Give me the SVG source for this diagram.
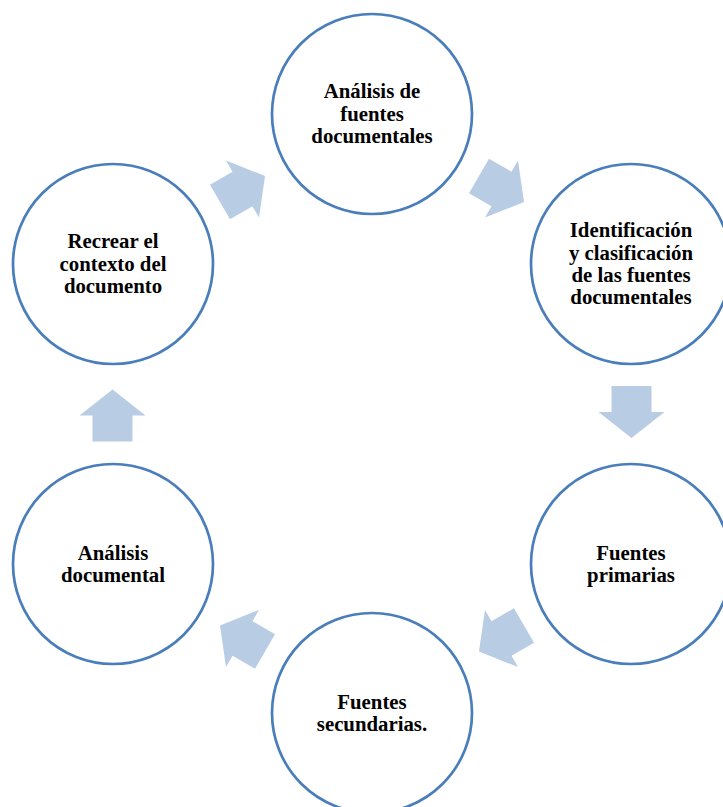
<svg xmlns="http://www.w3.org/2000/svg" width="723" height="807" viewBox="0 0 723 807">
<style>
.node{fill:#FFFFFF;stroke:#4A7EBB;stroke-width:2.7}
.lbl{font-family:"Liberation Serif","Times New Roman",serif;font-weight:bold;font-size:20.8px;fill:#000000;text-anchor:middle}
.arr{fill:#B8CCE4;stroke:none}
</style>
<defs>
<path id="blk" d="M-26,-20 L0,-20 L0,-33 L26,0 L0,33 L0,20 L-26,20 Z"/>
</defs>
<rect x="0" y="0" width="723" height="807" fill="#FFFFFF"/>
<g id="connectors">
<use href="#blk" class="arr" transform="translate(242.5,189) rotate(-30)"/>
<use href="#blk" class="arr" transform="translate(501.5,189) rotate(30)"/>
<use href="#blk" class="arr" transform="translate(631.5,412) rotate(90)"/>
<use href="#blk" class="arr" transform="translate(501.5,638.5) rotate(150)"/>
<use href="#blk" class="arr" transform="translate(242.5,638.5) rotate(210)"/>
<use href="#blk" class="arr" transform="translate(112.5,415.5) rotate(-90)"/>
</g>
<g id="n1">
<circle class="node" cx="372" cy="114" r="100"/>
<text class="lbl" x="372" y="98.4">Análisis de</text>
<text class="lbl" x="372" y="120.7">fuentes</text>
<text class="lbl" x="372" y="143">documentales</text>
</g>
<g id="n2">
<circle class="node" cx="631" cy="264" r="100"/>
<text class="lbl" x="631" y="237.3">Identificación</text>
<text class="lbl" x="631" y="259.6">y clasificación</text>
<text class="lbl" x="631" y="281.9">de las fuentes</text>
<text class="lbl" x="631" y="304.2">documentales</text>
</g>
<g id="n3">
<circle class="node" cx="631" cy="564" r="100"/>
<text class="lbl" x="631" y="559.5">Fuentes</text>
<text class="lbl" x="631" y="581.8">primarias</text>
</g>
<g id="n4">
<circle class="node" cx="372" cy="713" r="100"/>
<text class="lbl" x="372" y="708.5">Fuentes</text>
<text class="lbl" x="372" y="730.8">secundarias.</text>
</g>
<g id="n5">
<circle class="node" cx="113" cy="564" r="100"/>
<text class="lbl" x="113" y="559.5">Análisis</text>
<text class="lbl" x="113" y="581.8">documental</text>
</g>
<g id="n6">
<circle class="node" cx="113" cy="264" r="100"/>
<text class="lbl" x="113" y="248.4">Recrear el</text>
<text class="lbl" x="113" y="270.7">contexto del</text>
<text class="lbl" x="113" y="293">documento</text>
</g>
</svg>
